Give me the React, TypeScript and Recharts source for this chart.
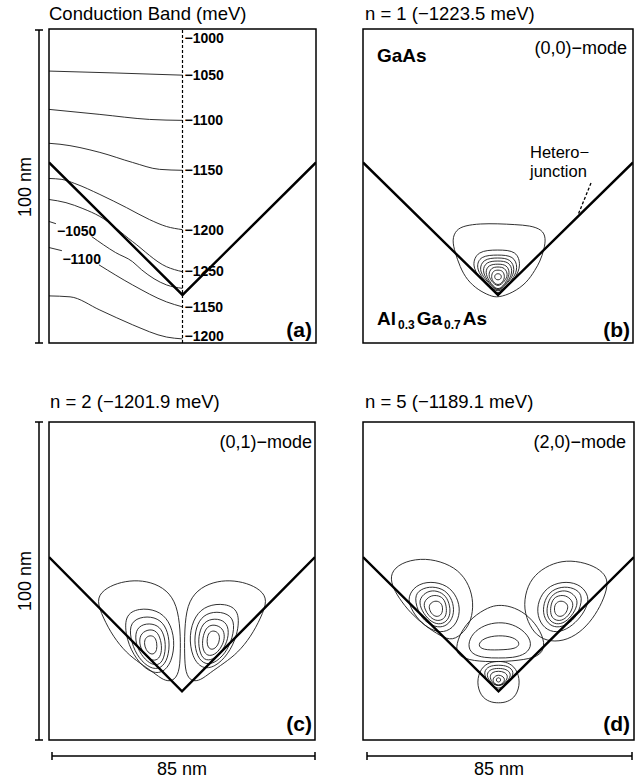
import { LineChart, Line, XAxis, YAxis, ReferenceLine, ReferenceDot } from 'recharts'

type P = [number, number]

const FONT = '"Liberation Sans", Arial, Helvetica, sans-serif'

// V-groove heterojunction, nm (x across 85 nm, y up 100 nm)
const vGroove: P[] = [[0, 57.5], [42.5, 15.3], [85, 57.5]]

// (a) conduction band contours
const cbGa1050: P[] = [[0, 86.6], [21, 86.0], [42.5, 85.3]]
const cbGa1100: P[] = [[0, 74.4], [16.2, 72.8], [32, 71.2], [42.5, 70.9]]
const cbGa1150: P[] = [[0, 63.6], [3.5, 63.3], [16.2, 60.7], [26.6, 57.5], [35.2, 55.3], [42.5, 55.0]]
const cbGa1200: P[] = [[0, 52.4], [4.1, 52.1], [8.2, 50.8], [16.2, 47.3], [24.7, 43.1], [32, 39.3], [37.4, 37.1], [42.5, 36.1]]
const cbGa1250: P[] = [[0, 45.7], [5.4, 44.7], [10.8, 42.8], [16.2, 40.3], [26.6, 32.3], [37.4, 24.3], [42.5, 22.7]]
const cbAl1050a: P[] = [[0, 38.7], [2.2, 38.0]]
const cbAl1050b: P[] = [[13.6, 33.9], [21.2, 28.8], [26.6, 25.9], [29.5, 23.3], [37.4, 18.5], [42.5, 17.4]]
const cbAl1100a: P[] = [[0, 30.4], [4.1, 29.4]]
const cbAl1100b: P[] = [[15.9, 24.9], [26.6, 18.5], [37.4, 13.1], [42.5, 11.5]]
const cbAl1200: P[] = [[0, 15.0], [6.7, 14.7], [16.2, 10.5], [26.6, 5.8], [37.4, 1.9], [42.5, 1.3]]

const cbRightText = ['−1000', '−1050', '−1100', '−1150', '−1200', '−1250', '−1150', '−1200']
const cbRightY = [97.1, 85.3, 70.9, 55.0, 36.1, 23.0, 11.5, 2.2]
const cbLeftText = ['−1050', '−1100']
const cbLeftPos: P[] = [[8.8, 35.8], [10.4, 26.8]]

// (b) n = 1, (0,0)-mode
const bOuter: P[] = [[28.0, 32.9], [29.3, 36.1], [32.1, 37.4], [36.8, 38.0], [42.5, 38.0], [47.9, 37.7], [52.6, 37.4], [56.4, 36.1], [57.6, 33.5], [57.0, 29.7], [55.7, 25.9], [54.2, 23.3], [51.6, 19.2], [47.2, 16.0], [42.5, 14.4], [40.0, 15.0], [36.2, 16.9], [32.7, 20.1], [30.5, 24.3], [29.0, 28.8]]
const bRing1: P[] = [[34.3, 24.6], [35.9, 29.4], [42.5, 29.7], [48.5, 29.4], [49.7, 24.6], [48.2, 21.1], [45.3, 17.6], [42.5, 15.3], [39.7, 17.6], [36.5, 21.1]]
const bRing2: P[] = [[35.6, 24.0], [36.8, 27.8], [42.5, 28.1], [47.5, 27.8], [48.8, 24.0], [47.5, 20.8], [45.0, 17.9], [42.5, 16.0], [40.0, 17.9], [37.5, 20.8]]
const bRing3: P[] = [[36.5, 23.3], [37.8, 26.8], [42.5, 27.2], [46.6, 26.8], [47.9, 23.3], [46.6, 20.4], [44.7, 18.2], [42.5, 16.3], [40.3, 18.2], [38.4, 20.4]]
const bRing4: P[] = [[37.5, 23.0], [38.7, 25.9], [42.5, 26.2], [46.0, 25.9], [47.2, 23.0], [46.0, 20.1], [44.4, 18.2], [42.5, 16.6], [40.6, 18.2], [39.0, 20.1]]
const bRing5: P[] = [[38.4, 22.4], [39.4, 24.9], [42.5, 25.2], [45.3, 24.9], [46.3, 22.4], [45.3, 19.8], [44.1, 18.2], [42.5, 16.9], [40.9, 18.2], [39.7, 19.8]]
const bRing6: P[] = [[39.4, 21.7], [40.3, 24.0], [42.5, 24.3], [44.7, 24.0], [45.7, 21.7], [44.7, 19.8], [42.5, 17.6], [40.3, 19.8]]
const bRing7: P[] = [[40.3, 21.1], [40.9, 23.0], [42.5, 23.3], [44.1, 23.0], [44.7, 21.1], [44.1, 19.5], [42.5, 18.2], [40.9, 19.5]]
const bRing8: P[] = [[41.3, 21.1], [41.8, 22.1], [43.2, 22.1], [43.7, 21.1], [43.2, 20.1], [41.8, 20.1]]

// (c) n = 2, (0,1)-mode
const cLeftOuter: P[] = [[15.1, 44.0], [17.3, 47.2], [21.8, 49.4], [27.2, 50.3], [32.6, 49.7], [37.7, 47.2], [40.9, 42.5], [42.0, 34.6], [42.0, 26.7], [41.6, 21.0], [39.5, 18.3], [36.5, 18.8], [33.6, 21.1], [29.0, 24.2], [24.7, 27.4], [20.5, 32.5], [17.3, 38.4]]
const cLeft1: P[] = [[24.0, 39.3], [28.8, 41.5], [34.5, 40.9], [38.4, 37.7], [40.3, 31.4], [39.3, 24.5], [36.1, 20.8], [32.0, 21.4], [27.9, 25.2], [24.7, 31.4]]
const cLeft2: P[] = [[25.9, 37.1], [30.1, 39.0], [34.9, 38.4], [37.7, 35.2], [38.7, 29.9], [37.7, 24.5], [34.9, 22.0], [31.4, 23.0], [27.9, 26.7], [25.9, 32.1]]
const cLeft3: P[] = [[27.9, 35.2], [31.0, 36.8], [34.9, 36.2], [36.8, 33.3], [37.4, 28.9], [36.4, 24.5], [34.2, 23.3], [31.4, 24.5], [28.8, 27.7], [27.5, 31.4]]
const cLeft4: P[] = [[29.4, 33.6], [32.0, 34.9], [34.5, 34.3], [35.8, 31.4], [36.1, 28.0], [35.2, 25.5], [33.3, 24.8], [31.0, 26.1], [29.4, 28.6], [28.8, 31.1]]
const cLeft5: P[] = [[30.7, 32.1], [32.3, 33.0], [33.9, 32.4], [34.5, 30.5], [34.5, 28.3], [33.6, 27.0], [32.3, 27.0], [31.0, 28.3], [30.4, 30.2]]
const cRightOuter: P[] = [[69.9, 44.0], [67.7, 47.2], [63.2, 49.4], [57.8, 50.3], [52.4, 49.7], [47.3, 47.2], [44.1, 42.5], [43.3, 34.6], [43.3, 26.7], [43.6, 21.0], [45.5, 18.3], [48.5, 18.8], [51.4, 21.1], [56.0, 24.2], [60.3, 27.4], [64.5, 32.5], [67.7, 38.4]]
const cRight1: P[] = [[61.0, 40.8], [56.2, 43.0], [50.5, 42.4], [46.6, 39.2], [44.7, 32.9], [45.7, 26.0], [48.9, 22.3], [53.0, 22.9], [57.1, 26.7], [60.3, 32.9]]
const cRight2: P[] = [[59.1, 38.6], [54.9, 40.5], [50.1, 39.9], [47.3, 36.7], [46.3, 31.4], [47.3, 26.0], [50.1, 23.5], [53.6, 24.5], [57.1, 28.2], [59.1, 33.6]]
const cRight3: P[] = [[57.1, 36.7], [54.0, 38.3], [50.1, 37.7], [48.2, 34.8], [47.6, 30.4], [48.6, 26.0], [50.8, 24.8], [53.6, 26.0], [56.2, 29.2], [57.5, 32.9]]
const cRight4: P[] = [[55.6, 35.1], [53.0, 36.4], [50.5, 35.8], [49.2, 32.9], [48.9, 29.5], [49.8, 27.0], [51.7, 26.3], [54.0, 27.6], [55.6, 30.1], [56.2, 32.6]]
const cRight5: P[] = [[54.3, 33.6], [52.7, 34.5], [51.1, 33.9], [50.5, 32.0], [50.5, 29.8], [51.4, 28.5], [52.7, 28.5], [54.0, 29.8], [54.6, 31.7]]

// (d) n = 5, (2,0)-mode
const dLeftOuter: P[] = [[8.6, 52.5], [11.8, 55.7], [18.0, 57.2], [24.3, 56.3], [30.0, 53.5], [33.4, 48.7], [34.7, 43.1], [34.0, 37.7], [31.8, 34.0], [28.1, 31.1], [24.3, 32.7], [19.6, 35.8], [14.9, 39.9], [11.2, 44.7], [9.0, 48.7]]
const dLeft1: P[] = [[14.0, 45.0], [16.5, 48.7], [21.2, 50.0], [26.5, 48.7], [29.6, 45.0], [30.6, 40.3], [29.0, 35.8], [25.3, 33.6], [21.2, 34.6], [17.4, 37.7], [14.9, 41.5]]
const dLeft2: P[] = [[15.9, 45.0], [18.0, 47.5], [21.8, 48.4], [25.9, 47.2], [28.1, 44.0], [28.7, 39.9], [27.1, 36.5], [24.3, 35.2], [20.9, 36.2], [17.7, 39.0]]
const dLeft3: P[] = [[17.4, 44.0], [19.6, 46.5], [22.4, 47.2], [25.6, 45.9], [27.1, 43.1], [27.5, 39.6], [26.2, 37.1], [23.7, 36.2], [20.9, 37.4], [18.4, 40.6]]
const dLeft4: P[] = [[19.0, 43.4], [20.9, 45.3], [23.1, 45.6], [25.3, 44.7], [26.2, 42.1], [26.2, 39.3], [25.0, 37.7], [22.7, 37.4], [20.6, 39.0], [19.3, 41.2]]
const dLeft5: P[] = [[20.6, 42.5], [22.1, 43.7], [23.7, 43.7], [25.0, 42.5], [25.0, 39.9], [23.7, 38.7], [22.1, 39.0], [20.9, 40.6]]
const dRightOuter: P[] = [[51.6, 48.7], [54.7, 52.8], [59.7, 55.7], [65.1, 56.6], [71.3, 55.3], [75.4, 52.8], [77.0, 49.7], [75.7, 44.7], [72.9, 39.3], [69.1, 34.6], [64.1, 31.4], [58.8, 30.8], [54.4, 32.7], [51.6, 37.1], [50.3, 42.5]]
const dRight1: P[] = [[71.0, 45.0], [68.5, 48.7], [63.8, 50.0], [58.5, 48.7], [55.4, 45.0], [54.4, 40.3], [56.0, 35.8], [59.7, 33.6], [63.8, 34.6], [67.6, 37.7], [70.1, 41.5]]
const dRight2: P[] = [[69.1, 45.0], [67.0, 47.5], [63.2, 48.4], [59.1, 47.2], [56.9, 44.0], [56.3, 39.9], [57.9, 36.5], [60.7, 35.2], [64.1, 36.2], [67.3, 39.0]]
const dRight3: P[] = [[67.6, 44.0], [65.4, 46.5], [62.6, 47.2], [59.4, 45.9], [57.9, 43.1], [57.5, 39.6], [58.8, 37.1], [61.3, 36.2], [64.1, 37.4], [66.6, 40.6]]
const dRight4: P[] = [[66.0, 43.4], [64.1, 45.3], [61.9, 45.6], [59.7, 44.7], [58.8, 42.1], [58.8, 39.3], [60.0, 37.7], [62.3, 37.4], [64.4, 39.0], [65.7, 41.2]]
const dRight5: P[] = [[64.4, 42.5], [62.9, 43.7], [61.3, 43.7], [60.0, 42.5], [60.0, 39.9], [61.3, 38.7], [62.9, 39.0], [64.1, 40.6]]
const dMid1: P[] = [[29.0, 28.9], [30.6, 34.0], [34.3, 38.7], [39.4, 41.8], [42.5, 42.5], [46.3, 42.1], [51.0, 39.9], [55.0, 35.5], [57.2, 30.5], [56.0, 26.7], [51.0, 25.2], [42.5, 24.5], [34.3, 24.8], [30.0, 26.4]]
const dMid2: P[] = [[32.8, 29.9], [34.3, 33.6], [38.1, 36.2], [42.5, 37.1], [46.9, 36.5], [51.0, 34.0], [53.2, 30.2], [51.3, 27.0], [46.9, 25.8], [42.5, 25.8], [38.1, 25.8], [34.0, 27.0]]
const dMid3: P[] = [[35.9, 29.9], [37.8, 32.1], [42.5, 33.0], [47.2, 32.4], [49.4, 30.5], [48.1, 28.6], [42.5, 28.3], [37.5, 28.3]]
const dApex0: P[] = [[35.6, 18.2], [36.9, 22.6], [39.7, 24.5], [42.5, 24.8], [45.3, 24.5], [48.1, 22.6], [49.4, 18.2], [48.1, 13.8], [45.3, 11.9], [42.5, 11.6], [39.7, 11.9], [36.9, 13.8]]
const dApex1: P[] = [[37.8, 21.4], [39.4, 23.3], [42.5, 23.6], [45.6, 23.3], [47.5, 21.4], [46.3, 18.9], [44.4, 17.0], [42.5, 16.0], [40.6, 17.0], [38.7, 18.9]]
const dApex2: P[] = [[38.7, 20.8], [40.0, 22.3], [42.5, 22.6], [45.0, 22.3], [46.6, 20.8], [45.6, 18.6], [42.5, 16.4], [39.4, 18.6]]
const dApex3: P[] = [[39.7, 20.1], [40.6, 21.4], [42.5, 21.7], [44.4, 21.4], [45.6, 20.1], [44.7, 18.2], [42.5, 16.7], [40.3, 18.2]]
const dApex4: P[] = [[40.6, 19.5], [42.5, 20.8], [44.7, 19.5], [44.1, 17.9], [42.5, 17.0], [40.9, 17.9]]
const dApex5: P[] = [[41.7, 18.9], [42.1, 19.6], [42.9, 19.6], [43.3, 18.9], [42.9, 18.2], [42.1, 18.2]]

const toXY = (pts: P[]) => pts.map(([x, y]) => ({ x, y }))

function contour(pts: P[], key: string, closed = true) {
  return (
    <Line
      key={key}
      data={toXY(pts)}
      dataKey="y"
      type={closed ? 'basisClosed' : 'monotone'}
      stroke="#1a1a1a"
      strokeWidth={0.9}
      dot={false}
      activeDot={false}
      isAnimationActive={false}
    />
  )
}

function groove() {
  return (
    <Line
      key="groove"
      data={toXY(vGroove)}
      dataKey="y"
      type="linear"
      stroke="#000"
      strokeWidth={2.4}
      dot={false}
      activeDot={false}
      isAnimationActive={false}
    />
  )
}

function Panel(props: { left: number; top: number; width: number; height: number; children: any }) {
  return (
    <div style={{ position: 'absolute', left: props.left, top: props.top }}>
      <LineChart width={props.width} height={props.height} margin={{ top: 0, right: 0, bottom: 0, left: 0 }}>
        <XAxis type="number" dataKey="x" domain={[0, 85]} hide allowDataOverflow />
        <YAxis type="number" domain={[0, 100]} hide allowDataOverflow />
        {props.children}
      </LineChart>
    </div>
  )
}

export default function App() {
  const txt = { fontFamily: FONT, fill: '#000' }
  const cbLabel = { fontSize: 14, fontWeight: 'bold', fill: '#000', fontFamily: FONT }
  return (
    <div style={{ position: 'absolute', left: 0, top: 0, width: 638, height: 779, background: '#fff' }}>
      <Panel left={49} top={29} width={267} height={314}>
        {[
          contour(cbGa1050, 'g1', false),
          contour(cbGa1100, 'g2', false),
          contour(cbGa1150, 'g3', false),
          contour(cbGa1200, 'g4', false),
          contour(cbGa1250, 'g5', false),
          contour(cbAl1050a, 'a1', false),
          contour(cbAl1050b, 'a2', false),
          contour(cbAl1100a, 'a3', false),
          contour(cbAl1100b, 'a4', false),
          contour(cbAl1200, 'a5', false),
        ]}
        <ReferenceLine x={42.5} stroke="#000" strokeWidth={1.2} strokeDasharray="3 2" />
        {groove()}
        {cbRightText.map((t, i) => (
          <ReferenceDot
            key={'r' + i}
            x={42.5}
            y={cbRightY[i]}
            r={0}
            label={{ value: t, position: 'right', offset: 2, ...cbLabel }}
          />
        ))}
        {cbLeftText.map((t, i) => (
          <ReferenceDot
            key={'l' + i}
            x={cbLeftPos[i][0]}
            y={cbLeftPos[i][1]}
            r={0}
            label={{ value: t, position: 'center', ...cbLabel }}
          />
        ))}
      </Panel>

      <Panel left={363} top={29} width={270} height={314}>
        {[
          contour(bOuter, 'o'),
          contour(bRing1, 'k1'),
          contour(bRing2, 'k2'),
          contour(bRing3, 'k3'),
          contour(bRing4, 'k4'),
          contour(bRing5, 'k5'),
          contour(bRing6, 'k6'),
          contour(bRing7, 'k7'),
          contour(bRing8, 'k8'),
        ]}
        {groove()}
      </Panel>

      <Panel left={49} top={422} width={266} height={318}>
        {[
          contour(cLeftOuter, 'lo'),
          contour(cLeft1, 'l1'),
          contour(cLeft2, 'l2'),
          contour(cLeft3, 'l3'),
          contour(cLeft4, 'l4'),
          contour(cLeft5, 'l5'),
          contour(cRightOuter, 'ro'),
          contour(cRight1, 'r1'),
          contour(cRight2, 'r2'),
          contour(cRight3, 'r3'),
          contour(cRight4, 'r4'),
          contour(cRight5, 'r5'),
        ]}
        {groove()}
      </Panel>

      <Panel left={363} top={422} width={271} height={318}>
        {[
          contour(dLeftOuter, 'lo'),
          contour(dLeft1, 'l1'),
          contour(dLeft2, 'l2'),
          contour(dLeft3, 'l3'),
          contour(dLeft4, 'l4'),
          contour(dLeft5, 'l5'),
          contour(dRightOuter, 'ro'),
          contour(dRight1, 'r1'),
          contour(dRight2, 'r2'),
          contour(dRight3, 'r3'),
          contour(dRight4, 'r4'),
          contour(dRight5, 'r5'),
          contour(dMid1, 'm1'),
          contour(dMid2, 'm2'),
          contour(dMid3, 'm3'),
          contour(dApex0, 'c0'),
          contour(dApex1, 'c1'),
          contour(dApex2, 'c2'),
          contour(dApex3, 'c3'),
          contour(dApex4, 'c4'),
          contour(dApex5, 'c5'),
        ]}
        {groove()}
      </Panel>

      <svg width={638} height={779} style={{ position: 'absolute', left: 0, top: 0, pointerEvents: 'none' }}>
        <g fill="none" stroke="#000" strokeWidth={1.5}>
          <rect x={49} y={29} width={267} height={314} />
          <rect x={363} y={29} width={270} height={314} />
          <rect x={49} y={422} width={266} height={318} />
          <rect x={363} y={422} width={271} height={318} />
          <path d="M39 30V343M35 30H43M35 343H43" />
          <path d="M39 422V740M35 422H43M35 740H43" />
          <path d="M52 756H315M52 752V760M315 752V760" />
          <path d="M367 756H632M367 752V760M632 752V760" />
        </g>
        <line x1={591} y1={183} x2={578} y2={215} stroke="#000" strokeWidth={1.3} strokeDasharray="3 2" />

        <g {...txt} fontSize={18.5}>
          <text x={49} y={19.5}>Conduction Band (meV)</text>
          <text x={365} y={20}>n = 1 (−1223.5 meV)</text>
          <text x={50} y={408}>n = 2 (−1201.9 meV)</text>
          <text x={365} y={408}>n = 5 (−1189.1 meV)</text>
        </g>
        <g {...txt} fontSize={18}>
          <text x={627} y={54} textAnchor="end">(0,0)−mode</text>
          <text x={312} y={448} textAnchor="end">(0,1)−mode</text>
          <text x={626} y={448} textAnchor="end">(2,0)−mode</text>
          <text transform="translate(31,187) rotate(-90)" textAnchor="middle">100 nm</text>
          <text transform="translate(31,581) rotate(-90)" textAnchor="middle">100 nm</text>
          <text x={182} y={775} textAnchor="middle">85 nm</text>
          <text x={499} y={775} textAnchor="middle">85 nm</text>
        </g>
        <g {...txt} fontSize={16.5}>
          <text x={530} y={158}>Hetero−</text>
          <text x={530} y={177}>junction</text>
        </g>
        <g {...txt} fontWeight="bold">
          <text x={377} y={62} fontSize={19}>GaAs</text>
          <text x={377} y={325} fontSize={19}>
            Al<tspan fontSize={12} dx={2} dy={4}>0.3</tspan>
            <tspan dx={2} dy={-4}>Ga</tspan>
            <tspan fontSize={12} dx={2} dy={4}>0.7</tspan>
            <tspan dx={2} dy={-4}>As</tspan>
          </text>
          <text x={312} y={337} fontSize={21} textAnchor="end">(a)</text>
          <text x={630} y={337} fontSize={21} textAnchor="end">(b)</text>
          <text x={312} y={731} fontSize={21} textAnchor="end">(c)</text>
          <text x={630} y={731} fontSize={21} textAnchor="end">(d)</text>
        </g>
      </svg>
    </div>
  )
}
